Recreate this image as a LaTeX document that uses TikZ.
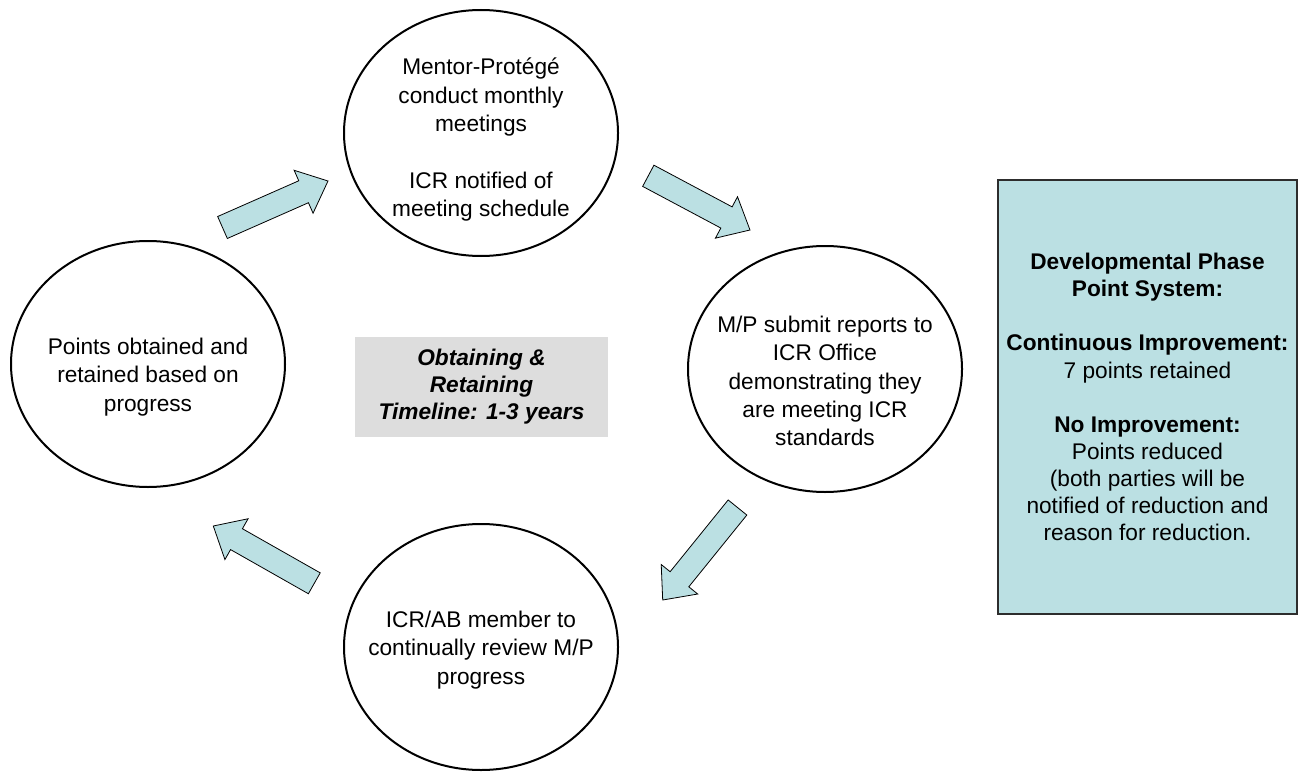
\documentclass[tikz,border=0pt]{standalone}
\usepackage{fontspec}
\setmainfont{Liberation Sans}
\usetikzlibrary{shapes.geometric,calc}
\definecolor{arrowfill}{RGB}{187,224,227}
\definecolor{greybox}{RGB}{221,221,221}
\definecolor{boxline}{RGB}{45,45,45}
\newcommand{\blockarrow}[2]{%
  \coordinate (hb) at ($(#2)!20pt!(#1)$);
  \draw[flow] ($(#1)!9pt!90:(#2)$) -- ($(hb)!9pt!-90:(#1)$) -- ($(hb)!17.6pt!-90:(#1)$) -- (#2)
    -- ($(hb)!17.6pt!90:(#1)$) -- ($(hb)!9pt!90:(#1)$) -- ($(#1)!9pt!-90:(#2)$) -- cycle;}
\begin{document}
\begin{tikzpicture}[x=0.75pt,y=-0.75pt,
  phase/.style={draw=black, line width=1.5pt, ellipse, minimum width=205.5pt, minimum height=184.5pt, inner sep=0pt},
  phasetext/.style={align=center, inner sep=0pt, font=\fontsize{17}{21.3}\selectfont},
  flow/.style={draw=black, line width=0.6pt, fill=arrowfill, line join=miter},
  infobox/.style={draw=boxline, line width=1.3pt, fill=arrowfill, minimum width=224.25pt, minimum height=325.5pt, inner sep=0pt, align=center, font=\fontsize{17}{20.3}\selectfont},
  centerbox/.style={fill=greybox, minimum width=189.75pt, minimum height=75pt, inner sep=0pt, align=center, font=\fontsize{17}{20.3}\selectfont\bfseries\itshape}
  ]
\useasboundingbox (0,0) rectangle (1303,774);
\node[phase] (top) at (481,133) {};
\node[phasetext] (toptext) at ($(top)+(0,7)$) {Mentor-Protégé\\conduct monthly\\meetings\\[21.3pt]ICR notified of\\meeting schedule};
\node[phase] (left) at (148,364) {};
\node[phasetext] (lefttext) at ($(left)+(0,13)$) {Points obtained and\\retained based on\\progress};
\node[phase] (right) at (825,369) {};
\node[phasetext] (righttext) at ($(right)+(0,12)$) {M/P submit reports to\\ICR Office\\demonstrating they\\are meeting ICR\\standards};
\node[phase] (bottom) at (481,647) {};
\node[phasetext] (bottomtext) at ($(bottom)+(0,3)$) {ICR/AB member to\\continually review M/P\\progress};
\node[centerbox] (center) at (481.5,387) {Obtaining \&\\Retaining\\Timeline: 1-3 years};
\node[infobox] (info) at (1147.5,397) {\textbf{Developmental Phase}\\\textbf{Point System:}\\[20.3pt]\textbf{Continuous Improvement:}\\7 points retained\\[20.3pt]\textbf{No Improvement:}\\Points reduced\\(both parties will be\\notified of reduction and\\reason for reduction.};
\coordinate (a1s) at (222.5,227.5);
\coordinate (a1e) at (328,181);
\coordinate (a2s) at (648.3,175.8);
\coordinate (a2e) at (750,230);
\coordinate (a3s) at (737.5,507.5);
\coordinate (a3e) at (662.7,600);
\coordinate (a4s) at (314.3,583.3);
\coordinate (a4e) at (213.3,526);
\blockarrow{a1s}{a1e}
\blockarrow{a2s}{a2e}
\blockarrow{a3s}{a3e}
\blockarrow{a4s}{a4e}
\end{tikzpicture}
\end{document}
